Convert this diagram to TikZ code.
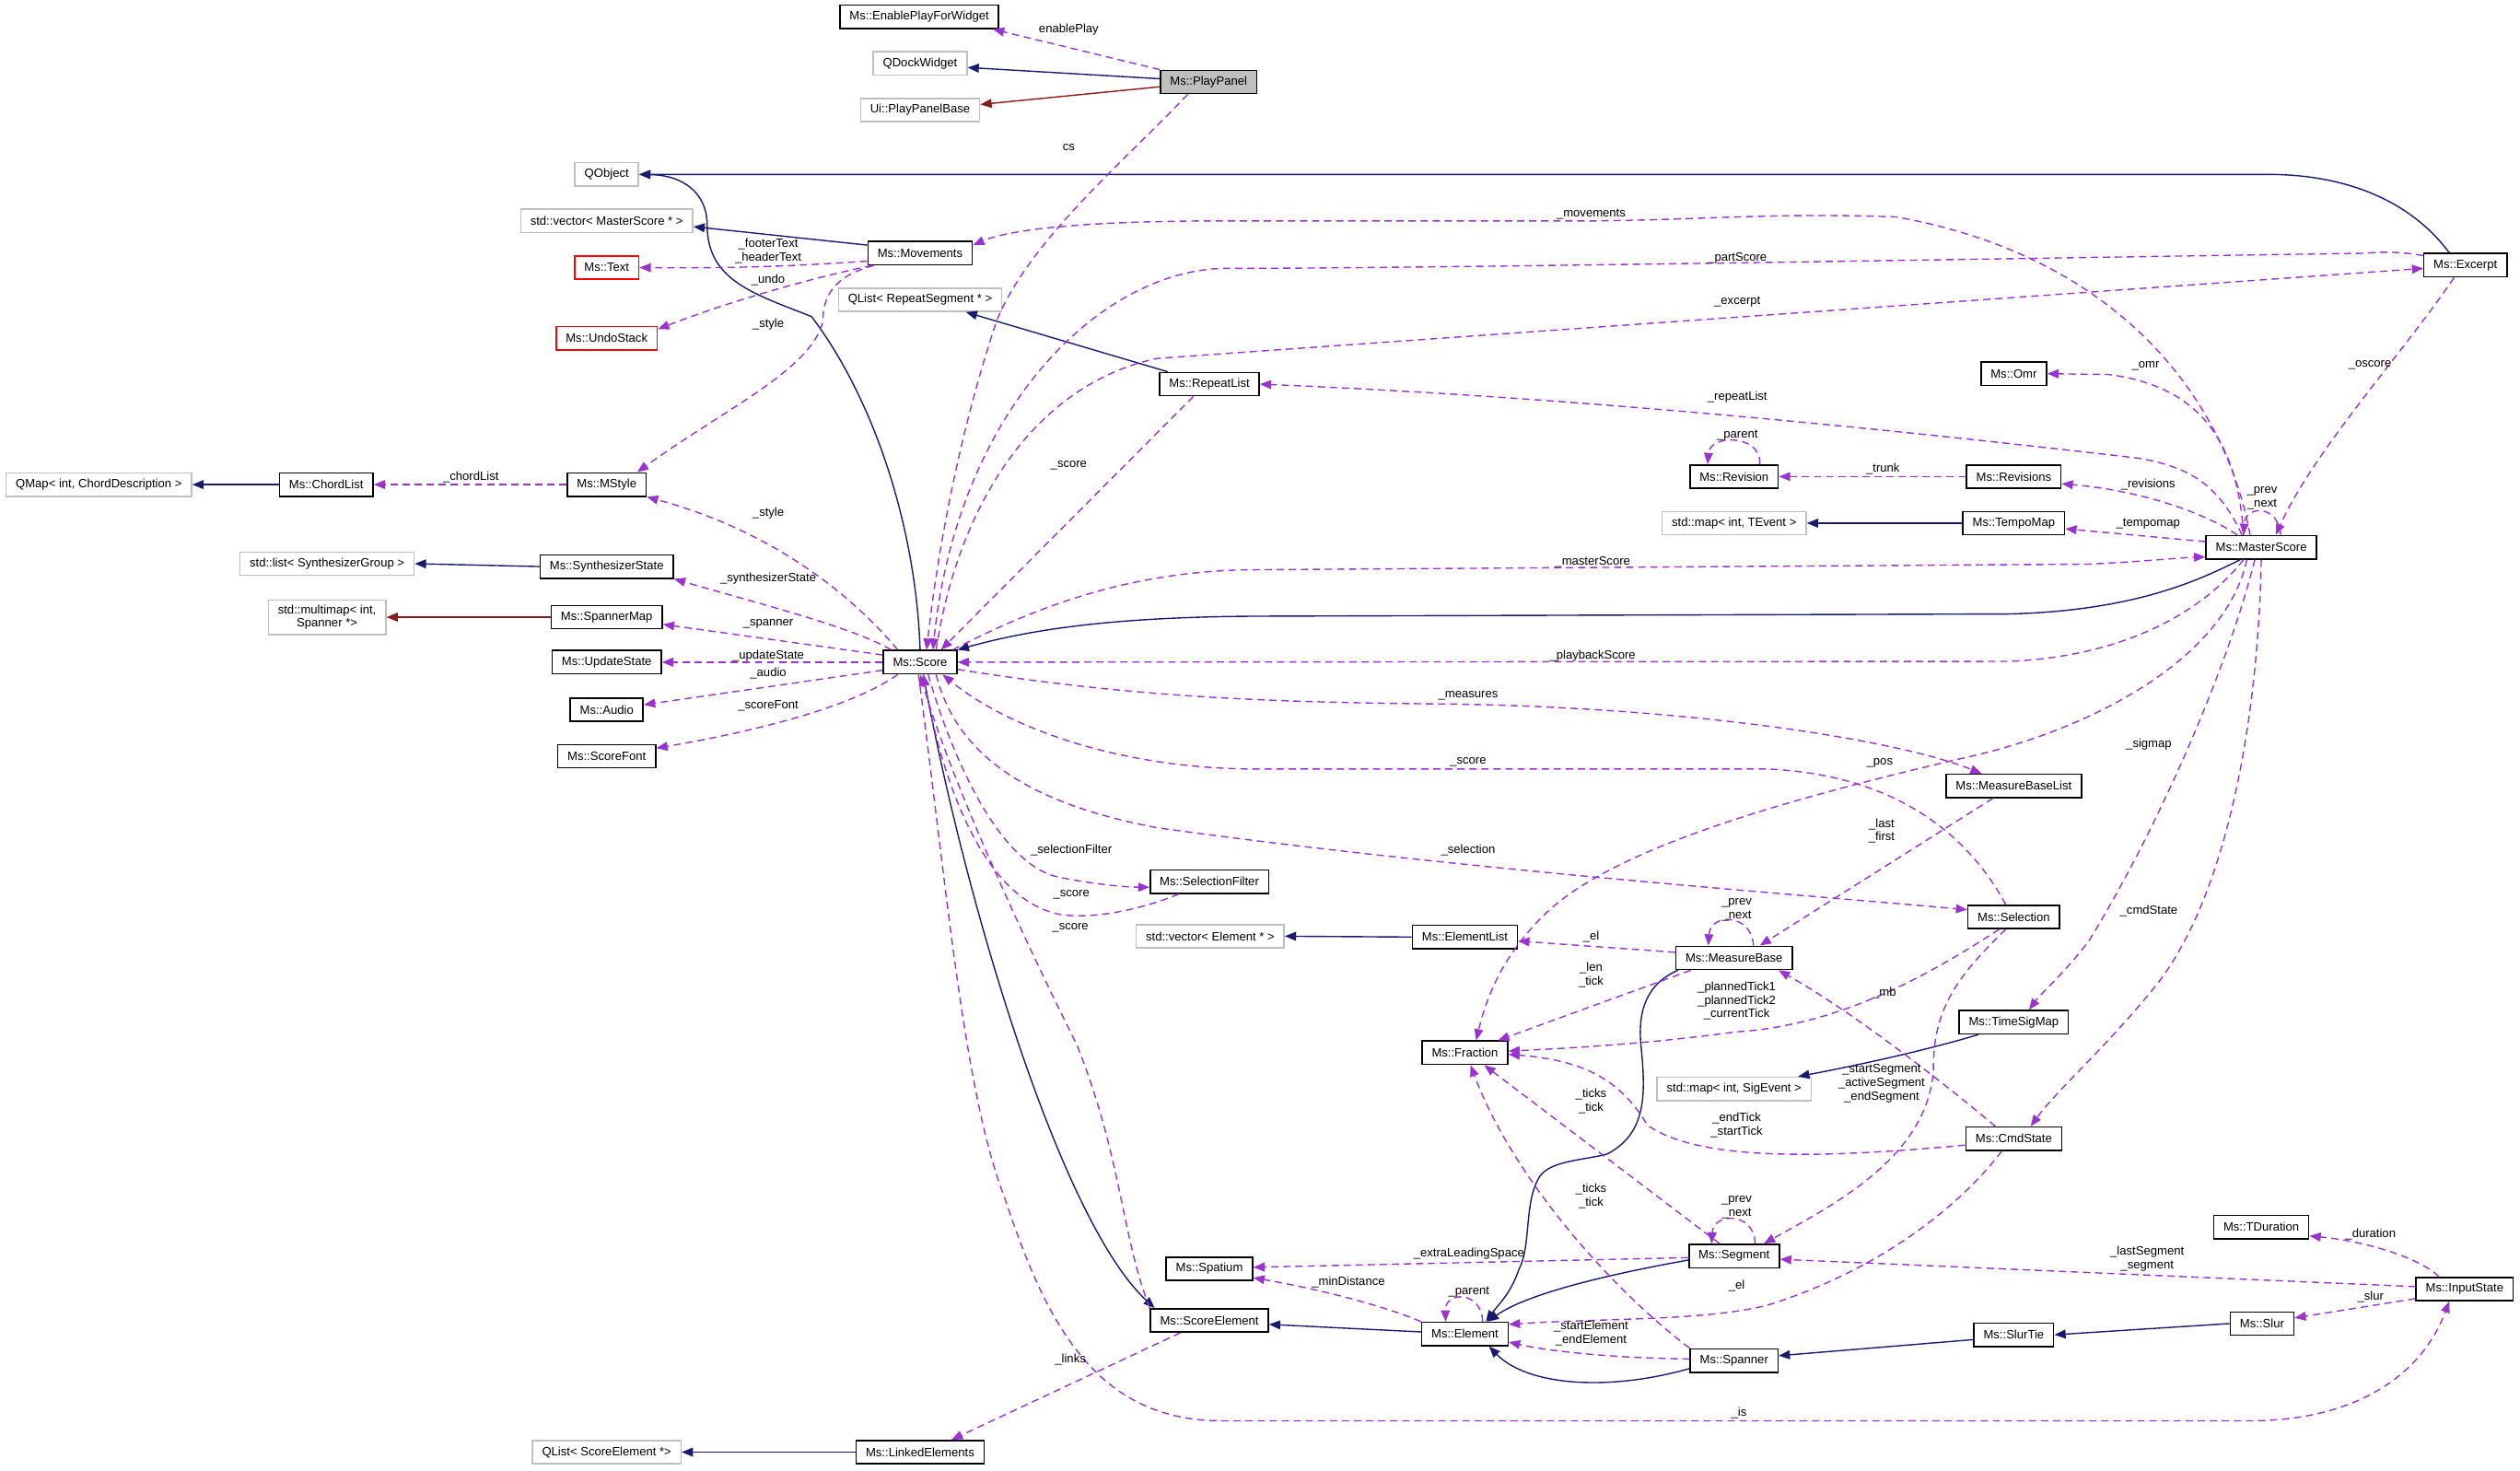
\documentclass[tikz,border=0pt]{standalone}
\usepackage{fontspec}
\setmainfont{Liberation Sans}
\usetikzlibrary{arrows.meta}

\definecolor{navy}{HTML}{191970}
\definecolor{dred}{HTML}{8B1A1A}
\definecolor{orchid}{HTML}{9A32CD}
\definecolor{grey75}{HTML}{BFBFBF}

\tikzset{
  cls/.style={draw=black, fill=white, line width=0.9pt, inner xsep=6pt, inner ysep=3pt,
    minimum height=14.5pt, font=\fontsize{7.5}{8.5}\selectfont},
  ext/.style={cls, draw=grey75},
  undoc/.style={cls, draw=red},
  cur/.style={cls, fill=grey75},
  lbl/.style={font=\fontsize{7.5}{8.5}\selectfont, align=center, inner sep=0pt},
  tip/.style={-{Triangle[length=7pt,width=5.5pt]}},
  inh/.style={navy, line width=0.8pt, tip},
  prot/.style={dred, line width=0.8pt, tip},
  usage/.style={orchid, line width=0.8pt, dash pattern=on 4.5pt off 3pt, tip},
}

\begin{document}
\begin{tikzpicture}[x=1pt, y=-1pt]
  \useasboundingbox[fill=white] (0,0) rectangle (1568,915);

  % Classes
  \node[cls]   (EnablePlay)  at (572,10.5)    {Ms::EnablePlayForWidget};
  \node[ext]   (QDock)       at (572.5,39.5)  {QDockWidget};
  \node[ext]   (PlayBase)    at (572.5,68.5)  {Ui::PlayPanelBase};
  \node[cur]   (PlayPanel)   at (752,51)      {Ms::PlayPanel};
  \node[ext]   (QObj)        at (377.5,108.5) {QObject};
  \node[ext]   (VecMS)       at (377.5,137.5) {std::vector< MasterScore * >};
  \node[undoc] (Text)        at (377.5,166.5) {Ms::Text};
  \node[undoc] (Undo)        at (377.5,210.5) {Ms::UndoStack};
  \node[cls]   (Movements)   at (572.5,157.5) {Ms::Movements};
  \node[ext]   (QListRS)     at (572.5,186.5) {QList< RepeatSegment * >};
  \node[cls]   (RepeatList)  at (752.5,239)   {Ms::RepeatList};
  \node[ext]   (QMapCD)      at (61.5,301.5)  {QMap< int, ChordDescription >};
  \node[cls]   (ChordList)   at (203,301.5)   {Ms::ChordList};
  \node[cls]   (MStyle)      at (377.5,301.5) {Ms::MStyle};
  \node[ext]   (ListSG)      at (203.5,350.7) {std::list< SynthesizerGroup >};
  \node[cls]   (Synth)       at (377.5,352.5) {Ms::SynthesizerState};
  \node[ext, align=center] (Multimap) at (203.5,384) {std::multimap< int,\\Spanner *>};
  \node[cls]   (SpannerMap)  at (377.5,384)   {Ms::SpannerMap};
  \node[cls]   (UpdateState) at (377.5,412)   {Ms::UpdateState};
  \node[cls]   (Audio)       at (377.5,441.5) {Ms::Audio};
  \node[cls]   (ScoreFont)   at (377.5,470.5) {Ms::ScoreFont};
  \node[cls]   (Score)       at (572.5,412)   {Ms::Score};
  \node[cls]   (SelFilter)   at (752.5,548.5) {Ms::SelectionFilter};
  \node[ext]   (VecEl)       at (753,582.5)   {std::vector< Element * >};
  \node[cls]   (ElementList) at (911.5,583)   {Ms::ElementList};
  \node[cls]   (MeasureBase) at (1079,596)    {Ms::MeasureBase};
  \node[cls]   (Fraction)    at (911.5,655)   {Ms::Fraction};
  \node[ext]   (MapSig)      at (1079,677.5)  {std::map< int, SigEvent >};
  \node[cls]   (TimeSigMap)  at (1253,636)    {Ms::TimeSigMap};
  \node[cls]   (CmdState)    at (1253,708.5)  {Ms::CmdState};
  \node[cls]   (MBList)      at (1253,489)    {Ms::MeasureBaseList};
  \node[cls]   (Selection)   at (1253,570.5)  {Ms::Selection};
  \node[cls]   (MasterScore) at (1407,340.5)  {Ms::MasterScore};
  \node[cls]   (Excerpt)     at (1534,165)    {Ms::Excerpt};
  \node[cls]   (Omr)         at (1253,232.5)  {Ms::Omr};
  \node[cls]   (Revision)    at (1079,296.5)  {Ms::Revision};
  \node[cls]   (Revisions)   at (1253,296.5)  {Ms::Revisions};
  \node[ext]   (MapTE)       at (1079,325.5)  {std::map< int, TEvent >};
  \node[cls]   (TempoMap)    at (1253,325.5)  {Ms::TempoMap};
  \node[cls]   (TDuration)   at (1407,763.5)  {Ms::TDuration};
  \node[cls]   (InputState)  at (1533.5,802)  {Ms::InputState};
  \node[cls]   (Slur)        at (1407.5,823.5) {Ms::Slur};
  \node[cls]   (SlurTie)     at (1253,830.5)  {Ms::SlurTie};
  \node[cls]   (Spanner)     at (1079,846.5)  {Ms::Spanner};
  \node[cls]   (Element)     at (911.5,830)   {Ms::Element};
  \node[cls]   (Segment)     at (1079,781.5)  {Ms::Segment};
  \node[cls]   (Spatium)     at (752.5,789.5) {Ms::Spatium};
  \node[cls]   (ScoreElement) at (752.5,821.5) {Ms::ScoreElement};
  \node[cls]   (Linked)      at (572.5,903.5) {Ms::LinkedElements};
  \node[ext]   (QListSE)     at (377.5,903.5) {QList< ScoreElement *>};

  % Inheritance
  \draw[inh]  ([yshift=2pt]PlayPanel.west) -- ([yshift=-2.5pt]QDock.east);
  \draw[prot] ([yshift=-3pt]PlayPanel.west) -- ([yshift=3.5pt]PlayBase.east);
  \draw[inh]  ([xshift=-10pt]Excerpt.north) .. controls (1500,125) and (1460,108.5) .. (1411,108.5) -- (QObj.east);
  \draw[inh]  (Score.north) .. controls (570,330) and (545,250) .. (505,197)
              .. controls (470,183) and (440,175) .. (440,140)
              .. controls (440,120) and (425,109) .. (QObj.east);
  \draw[inh]  ([yshift=5pt]Movements.west) -- ([yshift=-3.5pt]VecMS.east);
  \draw[inh]  ([xshift=-26pt]RepeatList.north) -- ([xshift=28.5pt]QListRS.south);
  \draw[inh]  (ChordList.west) -- (QMapCD.east);
  \draw[inh]  (Synth.west) -- (ListSG.east);
  \draw[prot] (SpannerMap.west) -- (Multimap.east);
  \draw[inh]  ([xshift=-13pt]MasterScore.south) .. controls (1370,360) and (1330,380) .. (1250,382)
              -- (780,383.4) .. controls (690,384) and (640,392) .. (Score.north east);
  \draw[inh]  (TempoMap.west) -- (MapTE.east);
  \draw[inh]  ([xshift=-22pt]TimeSigMap.south) .. controls (1200,653) and (1160,662) .. ([xshift=-8.5pt]MapSig.north east);
  \draw[inh]  (ElementList.west) -- (VecEl.east);
  \draw[inh]  ([xshift=-35pt]MeasureBase.south) .. controls (1025,612) and (1019,628) .. (1021,650)
              .. controls (1024,680) and (1025,705) .. (1000,718)
              .. controls (985,722) and (965,722) .. (958,732)
              .. controls (948,748) and (953,775) .. (945,790)
              .. controls (940,805) and (932,812) .. ([xshift=13pt]Element.north);
  \draw[inh]  ([yshift=-2.5pt]Segment.west) .. controls (1000,793) and (950,805) .. ([xshift=14pt]Element.north);
  \draw[inh]  ([yshift=-5pt]Spanner.west) .. controls (1000,866) and (950,862) .. ([xshift=15pt]Element.south);
  \draw[inh]  ([yshift=-3pt]SlurTie.west) -- ([yshift=3pt]Spanner.east);
  \draw[inh]  (Slur.west) -- (SlurTie.east);
  \draw[inh]  ([yshift=1.3pt]Element.west) -- ([yshift=-2.5pt]ScoreElement.east);
  \draw[inh]  ([xshift=2pt]Score.south) .. controls (600,560) and (660,760) .. ([xshift=3pt]ScoreElement.north west);
  \draw[inh]  (Linked.west) -- (QListSE.east);

  % Usage: PlayPanel, Movements, MStyle
  \draw[usage] (PlayPanel.north west) -- ([xshift=-4pt]EnablePlay.south east);
  \node[lbl] (lEnable) at (665,18.4) {enablePlay};
  \draw[usage] ([xshift=-13pt]PlayPanel.south) .. controls (700,100) and (640,150) .. (620,200)
               .. controls (600,260) and (585,330) .. ([xshift=4pt]Score.north);
  \node[lbl] (lCs) at (665,92) {cs};
  \draw[usage] ([yshift=-5pt]Movements.west) .. controls (500,165) and (470,167) .. (Text.east);
  \node[lbl] (lFooter) at (478,156) {\_footerText\\\_headerText};
  \draw[usage] ([xshift=3pt]Movements.south west) .. controls (500,174) and (450,189) .. ([yshift=-2pt]Undo.north east);
  \node[lbl] (lUndo) at (478,174) {\_undo};
  \draw[usage] ([xshift=4pt]Movements.south west) .. controls (518,172) and (512,185) .. (512,200)
               .. controls (505,230) and (450,255) .. ([xshift=-6pt]MStyle.north east);
  \node[lbl] (lStyleA) at (478,202) {\_style};
  \draw[usage] (MStyle.west) -- (ChordList.east);
  \node[lbl] (lChord) at (293,297) {\_chordList};

  % Usage: Score to the left
  \draw[usage] ([xshift=-14pt]Score.north) .. controls (530,370) and (480,330) .. (MStyle.south east);
  \node[lbl] (lStyleB) at (478,319) {\_style};
  \draw[usage] ([xshift=-18pt]Score.north) .. controls (530,390) and (470,375) .. (Synth.south east);
  \node[lbl] (lSynth) at (478,360) {\_synthesizerState};
  \draw[usage] ([yshift=4.5pt]Score.west) -- ([yshift=-4.5pt]SpannerMap.east);
  \node[lbl] (lSpanner) at (478,388) {\_spanner};
  \draw[usage] (Score.west) -- (UpdateState.east);
  \node[lbl] (lUpdate) at (478,408) {\_updateState};
  \draw[usage] ([yshift=-5pt]Score.west) -- ([yshift=3pt]Audio.east);
  \node[lbl] (lAudio) at (478,419) {\_audio};
  \draw[usage] ([xshift=-14pt]Score.south) .. controls (530,440) and (470,455) .. ([yshift=5pt]ScoreFont.east);
  \node[lbl] (lFont) at (478,439) {\_scoreFont};

  % Usage: MasterScore, Excerpt, RepeatList
  \draw[usage] ([xshift=-7pt]MasterScore.north) .. controls (1385,250) and (1320,160) .. (1180,135)
               .. controls (1100,132) and (1050,137.5) .. (980,137.5) -- (745,137.5)
               .. controls (680,138) and (630,142) .. ([yshift=5pt]Movements.east);
  \node[lbl] (lMov) at (990,133) {\_movements};
  \draw[usage] ([yshift=6pt]Excerpt.west) .. controls (1490,156) and (1480,157) .. (1470,157.6)
               .. controls (1300,160) and (900,167) .. (760,167)
               .. controls (680,170) and (595,260) .. ([xshift=8pt]Score.north);
  \node[lbl] (lPart) at (1081,160.6) {\_partScore};
  \draw[usage] ([xshift=10pt]Score.north) .. controls (595,320) and (640,240) .. (720,223) -- ([yshift=-2pt]Excerpt.west);
  \node[lbl] (lExcerpt) at (1081,188) {\_excerpt};
  \draw[usage] ([xshift=-7pt]Excerpt.south) .. controls (1495,220) and (1440,280) .. ([xshift=9pt]MasterScore.north);
  \node[lbl] (lOscore) at (1474.6,227) {\_oscore};
  \draw[usage] ([xshift=-11pt]MasterScore.north) .. controls (1392,270) and (1365,240) .. (1312,233) -- (Omr.east);
  \node[lbl] (lOmr) at (1335,227.4) {\_omr};
  \draw[usage] ([xshift=-12pt]MasterScore.north) .. controls (1380,300) and (1360,290) .. (1330,285)
               .. controls (1200,270) and (1000,248) .. (RepeatList.east);
  \node[lbl] (lRepeat) at (1081,247) {\_repeatList};
  \draw[usage] ([xshift=-10pt]RepeatList.south) -- ([xshift=13pt]Score.north);
  \node[lbl] (lScoreA) at (665,289.6) {\_score};
  \draw[usage] ([xshift=16pt]Revision.north) .. controls (1096,270) and (1064,270) .. ([xshift=-16.5pt]Revision.north);
  \node[lbl] (lParentA) at (1081,270.6) {\_parent};
  \draw[usage] (Revisions.west) -- (Revision.east);
  \node[lbl] (lTrunk) at (1171.6,291.7) {\_trunk};
  \draw[usage] ([xshift=-15pt]MasterScore.north) .. controls (1370,318) and (1330,305) .. ([yshift=-4.5pt]Revisions.east);
  \node[lbl] (lRevs) at (1336.6,301.7) {\_revisions};
  \draw[usage] ([xshift=12pt]MasterScore.north) .. controls (1418,314) and (1397,314) .. ([xshift=-11pt]MasterScore.north);
  \node[lbl] (lPrevA) at (1407.5,310) {\_prev\\\_next};
  \draw[usage] ([yshift=3.5pt]MasterScore.west) -- ([yshift=-3.5pt]TempoMap.east);
  \node[lbl] (lTempo) at (1336.6,325.6) {\_tempomap};
  \draw[usage] ([xshift=-3pt]Score.north east) .. controls (640,380) and (700,355) .. (780,354.5)
               -- (1300,351) .. controls (1340,349) and (1355,347) .. ([yshift=-6pt]MasterScore.west);
  \node[lbl] (lMaster) at (991,350) {\_masterScore};
  \draw[usage] ([xshift=-11pt]MasterScore.south) .. controls (1375,375) and (1330,408) .. (1250,411.5) -- (Score.east);
  \node[lbl] (lPlayback) at (991,408) {\_playbackScore};

  % Usage: Score to the right and below
  \draw[usage] ([yshift=-4.5pt]Score.east) .. controls (700,433) and (780,437) .. (900,438)
               .. controls (1050,440) and (1180,460) .. ([xshift=-20pt]MBList.north);
  \node[lbl] (lMeasures) at (913.5,433) {\_measures};
  \draw[usage] ([xshift=-5pt]Selection.north) .. controls (1225,520) and (1180,482) .. (1100,478.5)
               -- (780,478.5) .. controls (700,478) and (630,455) .. ([xshift=14pt]Score.south);
  \node[lbl] (lScoreB) at (913.5,474) {\_score};
  \draw[usage] ([xshift=10pt]Score.south) .. controls (595,470) and (640,500) .. (720,515)
               .. controls (900,540) and (1100,555) .. ([yshift=4.5pt]Selection.west);
  \node[lbl] (lSelection) at (913.5,529) {\_selection};
  \draw[usage] ([xshift=5pt]Score.south) .. controls (595,480) and (625,540) .. (660,546)
               .. controls (680,550) and (700,552) .. ([yshift=-3.5pt]SelFilter.west);
  \node[lbl] (lSelFilter) at (666.6,529) {\_selectionFilter};
  \draw[usage] ([xshift=-19pt]SelFilter.south) .. controls (710,566) and (680,572) .. (660,569)
               .. controls (610,560) and (585,480) .. ([xshift=2pt]Score.south);
  \node[lbl] (lScoreC) at (666.6,556.7) {\_score};
  \draw[usage] (ScoreElement.north west) .. controls (698,770) and (698,720) .. (670,650)
               .. controls (630,570) and (590,480) .. (Score.south);
  \node[lbl] (lScoreD) at (666,577) {\_score};
  \draw[usage] ([xshift=-1pt]Score.south) .. controls (590,560) and (600,680) .. (625,745)
               .. controls (650,820) and (680,884) .. (760,884) -- (1400,884)
               .. controls (1460,884) and (1505,860) .. ([xshift=-9.5pt]InputState.south);
  \node[lbl] (lIs) at (1082,879) {\_is};
  \draw[usage] ([xshift=-18pt]ScoreElement.south) -- ([xshift=19.5pt]Linked.north);
  \node[lbl] (lLinks) at (666,845.7) {\_links};

  % Usage: MasterScore downwards
  \draw[usage] ([xshift=-9pt]MasterScore.south) .. controls (1385,410) and (1300,455) .. (1220,472)
               .. controls (1100,500) and (1000,530) .. (960,570)
               .. controls (935,595) and (925,620) .. ([xshift=7pt]Fraction.north);
  \node[lbl] (lPos) at (1169.6,475) {\_pos};
  \draw[usage] ([xshift=-4pt]MasterScore.south) .. controls (1385,420) and (1340,520) .. (1300,585)
               .. controls (1285,605) and (1270,618) .. ([xshift=9.5pt]TimeSigMap.north);
  \node[lbl] (lSigmap) at (1337,463) {\_sigmap};
  \draw[usage] (MasterScore.south) .. controls (1405,450) and (1385,560) .. (1340,615)
               .. controls (1310,652) and (1280,678) .. ([xshift=10.5pt]CmdState.north);
  \node[lbl] (lCmd) at (1337,566.6) {\_cmdState};

  % Usage: measures, selection, command state
  \draw[usage] ([xshift=-13pt]MBList.south) -- ([xshift=16pt]MeasureBase.north);
  \node[lbl] (lLast) at (1170.8,517) {\_last\\\_first};
  \draw[usage] ([xshift=12pt]MeasureBase.north) .. controls (1090,568) and (1064,568) .. ([xshift=-16pt]MeasureBase.north);
  \node[lbl] (lPrevB) at (1080.6,566) {\_prev\\\_next};
  \draw[usage] ([yshift=3.5pt]MeasureBase.west) -- ([yshift=-2.5pt]ElementList.east);
  \node[lbl] (lElA) at (990,582.6) {\_el};
  \draw[usage] ([xshift=-27pt]MeasureBase.south) -- ([xshift=-6.5pt]Fraction.north east);
  \node[lbl] (lLen) at (990,606.5) {\_len\\\_tick};
  \draw[usage] ([xshift=-9pt]Selection.south) .. controls (1210,600) and (1150,638) .. (1080,642)
               .. controls (1030,649) and (980,652) .. ([yshift=1pt]Fraction.east);
  \node[lbl] (lPlanned) at (1080.6,622.7) {\_plannedTick1\\\_plannedTick2\\\_currentTick};
  \draw[usage] ([yshift=-4pt]CmdState.west) .. controls (1150,719) and (1060,725) .. (1025,700)
               .. controls (1010,675) and (990,660) .. ([yshift=-1pt]Fraction.east);
  \node[lbl] (lEndTick) at (1080.6,700) {\_endTick\\\_startTick};
  \draw[usage] ([xshift=-11.5pt]CmdState.north) .. controls (1205,670) and (1150,628) .. ([xshift=-9pt]MeasureBase.south east);
  \node[lbl] (lMb) at (1172.5,618) {\_mb};
  \draw[usage] ([xshift=-5pt]Selection.south) .. controls (1215,610) and (1203,630) .. (1203,665)
               .. controls (1200,720) and (1140,750) .. ([xshift=18.5pt]Segment.north);
  \node[lbl] (lStartSeg) at (1170.8,674) {\_startSegment\\\_activeSegment\\\_endSegment};
  \draw[usage] ([xshift=-7.5pt]CmdState.south) .. controls (1220,750) and (1170,790) .. (1100,812)
               .. controls (1060,822) and (1000,820) .. ([yshift=6pt]Element.east);
  \node[lbl] (lElB) at (1080.6,800) {\_el};

  % Usage: segments, spanners, elements
  \draw[usage] ([xshift=13pt]Segment.north) .. controls (1092,754) and (1066,754) .. ([xshift=-14pt]Segment.north);
  \node[lbl] (lPrevC) at (1080.6,751.4) {\_prev\\\_next};
  \draw[usage] ([xshift=-9pt]Segment.north) -- ([xshift=12pt]Fraction.south);
  \node[lbl] (lTicksA) at (990,685) {\_ticks\\\_tick};
  \draw[usage] (Spanner.north west) .. controls (1000,800) and (940,730) .. ([xshift=3.5pt]Fraction.south);
  \node[lbl] (lTicksB) at (990,744.4) {\_ticks\\\_tick};
  \draw[usage] ([yshift=1.5pt]InputState.west) -- ([yshift=-2pt]Segment.east);
  \node[lbl] (lLastSeg) at (1336,783) {\_lastSegment\\\_segment};
  \draw[usage] ([xshift=-16pt]InputState.north) .. controls (1505,782) and (1470,772) .. ([yshift=-5.5pt]TDuration.east);
  \node[lbl] (lDuration) at (1475,767.8) {\_duration};
  \draw[usage] ([yshift=-6pt]InputState.west) -- ([yshift=3.5pt]Slur.east);
  \node[lbl] (lSlur) at (1475,806.7) {\_slur};
  \draw[usage] ([yshift=-1pt]Segment.west) -- ([yshift=1pt]Spatium.east);
  \node[lbl] (lExtra) at (914,780) {\_extraLeadingSpace};
  \draw[usage] (Element.north west) .. controls (860,812) and (820,802) .. ([yshift=-5.5pt]Spatium.east);
  \node[lbl] (lMinDist) at (839,798) {\_minDistance};
  \draw[usage] ([xshift=11pt]Element.north) .. controls (922,803) and (899,803) .. ([xshift=-12pt]Element.north);
  \node[lbl] (lParentB) at (914,804) {\_parent};
  \draw[usage] ([yshift=1pt]Spanner.west) .. controls (1000,845) and (960,840) .. ([yshift=-5pt]Element.east);
  \node[lbl] (lStartEl) at (990,829.7) {\_startElement\\\_endElement};

\end{tikzpicture}
\end{document}
